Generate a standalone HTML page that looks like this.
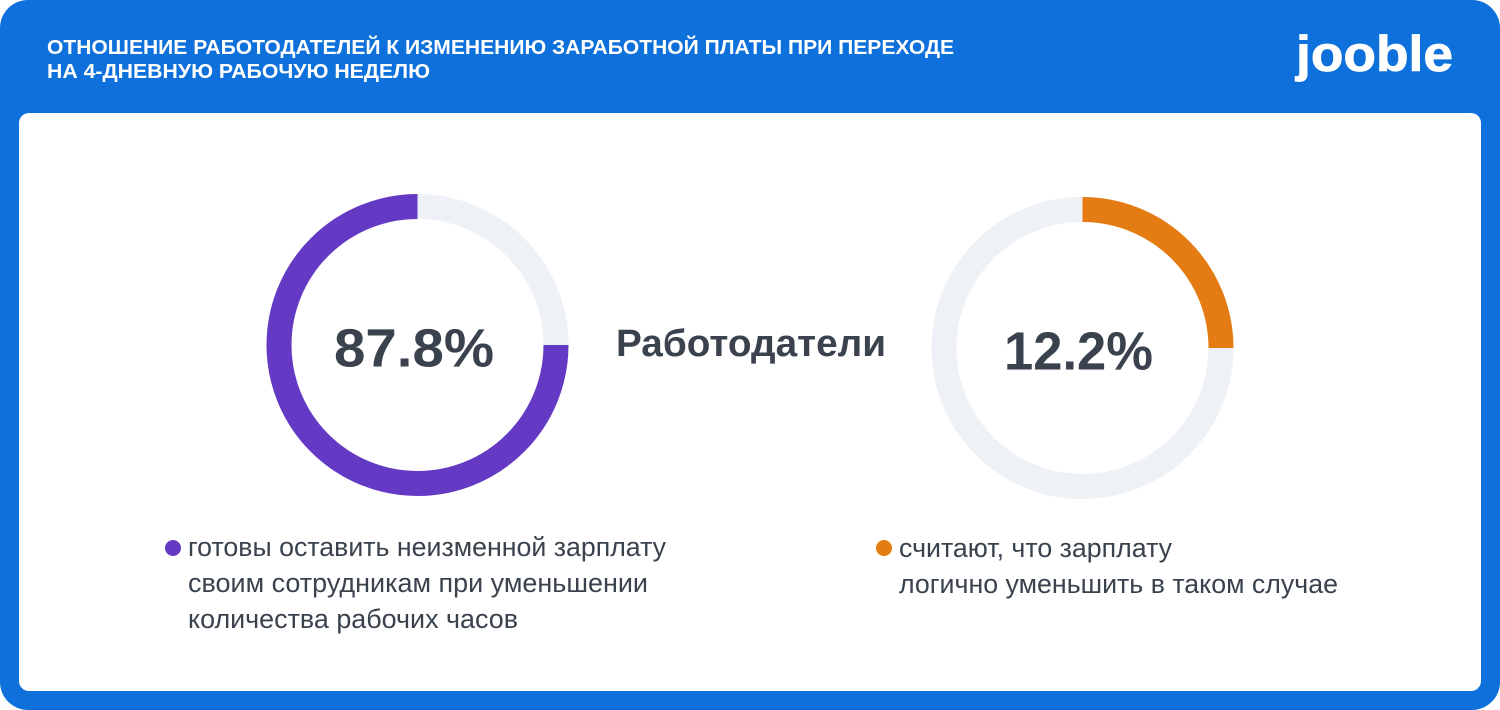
<!DOCTYPE html>
<html lang="ru">
<head>
<meta charset="utf-8">
<title>Отношение работодателей к изменению заработной платы</title>
<style>
  html, body { margin: 0; padding: 0; width: 1500px; height: 710px; overflow: hidden; background: #ffffff; }
  svg { display: block; font-family: "Liberation Sans", "DejaVu Sans", sans-serif; }
</style>
</head>
<body>
<svg id="chart" width="1500" height="710" viewBox="0 0 1500 710" xmlns="http://www.w3.org/2000/svg">
  <rect x="0" y="0" width="1500" height="710" rx="28" fill="#0e70db"/>
  <rect x="19" y="113" width="1462" height="578" rx="10" fill="#ffffff"/>

  <g fill="#ffffff" font-size="20" font-weight="700">
    <text x="47" y="54" textLength="907" lengthAdjust="spacingAndGlyphs">ОТНОШЕНИЕ РАБОТОДАТЕЛЕЙ К ИЗМЕНЕНИЮ ЗАРАБОТНОЙ ПЛАТЫ ПРИ ПЕРЕХОДЕ</text>
    <text x="47" y="78" textLength="383" lengthAdjust="spacingAndGlyphs">НА 4-ДНЕВНУЮ РАБОЧУЮ НЕДЕЛЮ</text>
  </g>

  <text x="1296" y="71" fill="#ffffff" stroke="#ffffff" stroke-width="0.8" font-size="50" font-weight="700" textLength="157" lengthAdjust="spacingAndGlyphs">jooble</text>

  <g id="donuts"></g>

  <text x="616" y="356" fill="#3a424e" font-size="38" font-weight="700" textLength="270" lengthAdjust="spacingAndGlyphs">Работодатели</text>

  <g fill="#3a424e" font-size="27">
    <circle cx="173" cy="548" r="8" fill="#6439c4"/>
    <text x="188" y="556" textLength="478" lengthAdjust="spacingAndGlyphs">готовы оставить неизменной зарплату</text>
    <text x="188" y="592" textLength="460" lengthAdjust="spacingAndGlyphs">своим сотрудникам при уменьшении</text>
    <text x="188" y="628" textLength="330" lengthAdjust="spacingAndGlyphs">количества рабочих часов</text>
  </g>

  <g fill="#3a424e" font-size="27">
    <circle cx="884" cy="548" r="8" fill="#e57c13"/>
    <text x="899" y="557" textLength="273" lengthAdjust="spacingAndGlyphs">считают, что зарплату</text>
    <text x="899" y="593" textLength="439" lengthAdjust="spacingAndGlyphs">логично уменьшить в таком случае</text>
  </g>
</svg>

<script>
// Chart data: the arcs as drawn in the picture and the printed values
const donutNames = ['keep-salary', 'reduce-salary'];
const printedValues = ['87.8%', '12.2%'];
const leftDonutShares = [25, 75];
const rightDonutShares = [25, 75];
const leftDonutColors = ['#eef1f6', '#6439c4'];
const rightDonutColors = ['#e57c13', '#eef1f6'];

const SVG_NS = 'http://www.w3.org/2000/svg';
const group = document.getElementById('donuts');

function shareToAngle(share) {
  return share / 100 * 2 * Math.PI;
}

function arcPoint(cx, cy, r, angle) {
  return [cx + r * Math.sin(angle), cy - r * Math.cos(angle)];
}

function drawDonut(name, shares, colors, label, cx, cy, labelCenter, labelWidth, labelBaseline) {
  const r = 138.5;
  let cumulative = 0;
  shares.forEach(function (share, i) {
    const a0 = shareToAngle(cumulative);
    const a1 = shareToAngle(cumulative + share);
    const p0 = arcPoint(cx, cy, r, a0);
    const p1 = arcPoint(cx, cy, r, a1);
    const large = share > 50 ? 1 : 0;
    const path = document.createElementNS(SVG_NS, 'path');
    path.setAttribute('d', 'M' + p0[0] + ' ' + p0[1] + ' A' + r + ' ' + r + ' 0 ' + large + ' 1 ' + p1[0] + ' ' + p1[1]);
    path.setAttribute('fill', 'none');
    path.setAttribute('stroke', colors[i]);
    path.setAttribute('stroke-width', '25');
    
    
    group.appendChild(path);
    cumulative += share;
  });
  const text = document.createElementNS(SVG_NS, 'text');
  text.textContent = label;
  text.setAttribute('x', labelCenter - labelWidth / 2);
  text.setAttribute('y', labelBaseline);
  text.setAttribute('fill', '#3a424e');
  text.setAttribute('font-size', '54');
  text.setAttribute('font-weight', '700');
  text.setAttribute('textLength', labelWidth);
  text.setAttribute('lengthAdjust', 'spacingAndGlyphs');
  
  
  group.appendChild(text);
}

drawDonut(donutNames[0], leftDonutShares, leftDonutColors, printedValues[0], 417.5, 345, 414, 160, 366.5);
drawDonut(donutNames[1], rightDonutShares, rightDonutColors, printedValues[1], 1082.5, 348, 1078.5, 149, 369.5);
</script>
</body>
</html>
